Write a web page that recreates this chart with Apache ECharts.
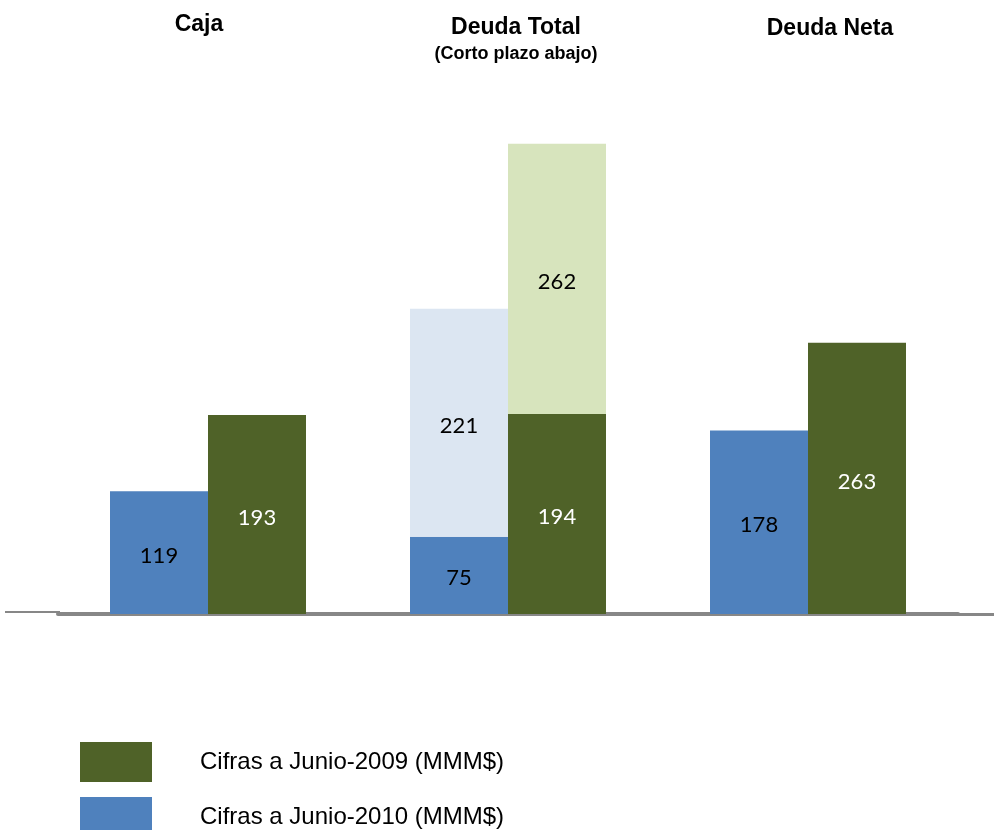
<!DOCTYPE html>
<html>
<head>
<meta charset="utf-8">
<script src="https://cdn.jsdelivr.net/npm/echarts@6/dist/echarts.min.js"></script>
<style>
html,body{margin:0;padding:0;background:#fff;}
#chart{width:994px;height:830px;}
</style>
</head>
<body>
<div id="chart"></div>
<script>
const categories = ['Caja', 'Deuda Total', 'Deuda Neta'];
const titles = ['Caja', 'Deuda Total', 'Deuda Neta'];
const subtitle = '(Corto plazo abajo)';
const name2010 = 'Cifras a Junio-2010 (MMM$)';
const name2009 = 'Cifras a Junio-2009 (MMM$)';
const values2010 = [119, 75, 178];
const values2010Top = [null, 221, null];
const values2009 = [193, 194, 263];
const values2009Top = [null, 262, null];

const chart = echarts.init(document.getElementById('chart'));
const labelFont = 'Lato, "Open Sans", sans-serif';
function lbl(color) {
  return { show: true, position: 'inside', offset: [0, 3], color: color, fontSize: 22, fontFamily: labelFont };
}
const titleFont = '"Liberation Sans", Arial, sans-serif';
const titleX = [199, 516, 830];
const titleY = [25, 28, 29];
const graphics = titles.map((t, i) => ({
  type: 'text', position: [titleX[i], titleY[i]],
  style: { text: t, font: 'bold 23px ' + titleFont, fill: '#000', align: 'center', verticalAlign: 'middle' }
}));
graphics.push({
  type: 'text', position: [516, 54],
  style: { text: subtitle, font: 'bold 18px ' + titleFont, fill: '#000', align: 'center', verticalAlign: 'middle' }
});
graphics.push({ type: 'line', shape: { x1: 5, y1: 612, x2: 60, y2: 612 }, style: { stroke: '#878787', lineWidth: 2 } });
graphics.push({ type: 'line', shape: { x1: 956, y1: 614.5, x2: 994, y2: 614.5 }, style: { stroke: '#878787', lineWidth: 3 } });

const legendText = { fontSize: 24, color: '#000', fontFamily: '"Liberation Sans", Arial, sans-serif', padding: [0, 0, 0, 43] };
function legendAt(top, name) {
  return {
    orient: 'vertical', left: 80, top: top, padding: 0,
    itemWidth: 72, itemHeight: 40, icon: 'rect',
    data: [name], textStyle: legendText, selectedMode: false
  };
}

chart.setOption({
  animation: false,
  backgroundColor: '#fff',
  grid: { left: 58, right: 36, top: 98.5, bottom: 216 },
  xAxis: {
    type: 'category', data: categories,
    axisLine: { show: true, lineStyle: { color: '#878787', width: 4 } },
    axisTick: { show: false }, axisLabel: { show: false }
  },
  yAxis: { type: 'value', min: 0, max: 500, show: false, splitLine: { show: false } },
  legend: [legendAt(742, name2009), legendAt(797, name2010)],
  graphic: graphics,
  series: [
    { name: name2010, type: 'bar', stack: 'y2010', data: values2010, barWidth: 98, barGap: '0%',
      itemStyle: { color: '#4F81BD' }, label: lbl('#000') },
    { name: name2010 + ' top', type: 'bar', stack: 'y2010', data: values2010Top, barWidth: 98, barGap: '0%',
      itemStyle: { color: '#DCE6F2' }, label: lbl('#000') },
    { name: name2009, type: 'bar', stack: 'y2009', data: values2009, barWidth: 98, barGap: '0%',
      itemStyle: { color: '#4F6228' }, label: lbl('#fff') },
    { name: name2009 + ' top', type: 'bar', stack: 'y2009', data: values2009Top, barWidth: 98, barGap: '0%',
      itemStyle: { color: '#D7E4BD' }, label: lbl('#000') }
  ]
});
</script>
</body>
</html>
